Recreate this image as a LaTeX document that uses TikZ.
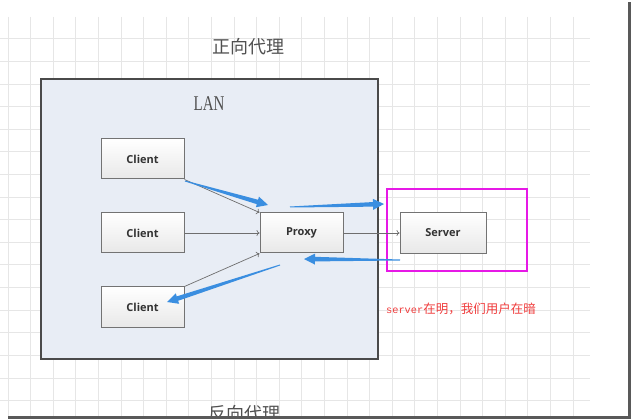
\documentclass[tikz,border=0pt]{standalone}
\usepackage{fontspec}
\setmainfont{Liberation Serif}
\setmonofont{Liberation Mono}
\newfontfamily\cjk{Noto Sans CJK SC}
\newfontfamily\boxfont{Open Sans}
\usetikzlibrary{arrows.meta,calc}
\definecolor{gridc}{RGB}{230,230,230}
\definecolor{lanfill}{RGB}{232,237,245}
\definecolor{lanline}{RGB}{74,74,74}
\definecolor{magbox}{RGB}{230,25,230}
\definecolor{arrowblue}{RGB}{58,142,224}
\definecolor{redtxt}{RGB}{240,60,60}
\definecolor{conn}{RGB}{110,110,110}
\definecolor{boxline}{RGB}{115,115,115}
\definecolor{titlec}{RGB}{80,80,80}
\newcommand\taparrow[2]{%
  \path (#2) coordinate (tt) ($(#2)!11pt!(#1)$) coordinate (hb);
  \fill[arrowblue] ($(#1)!0.5pt!90:(tt)$) -- ($(hb)!2.3pt!90:(tt)$) -- ($(hb)!5.5pt!90:(tt)$) -- (tt)
     -- ($(hb)!5.5pt!-90:(tt)$) -- ($(hb)!2.3pt!-90:(tt)$) -- ($(#1)!0.5pt!-90:(tt)$) -- cycle;}
\tikzset{
  boxnode/.style={draw=boxline, line width=1pt, top color=white, bottom color=black!9,
    minimum width=83pt, minimum height=40pt, inner sep=0pt,
    font=\boxfont\bfseries\fontsize{11}{12}\selectfont, text=black!80},
  connline/.style={draw=conn, line width=0.7pt, -{To[length=3pt,width=6pt]}},
}
\begin{document}
\begin{tikzpicture}[x=1pt,y=-1pt]
\useasboundingbox (0,0) rectangle (631,419);
\fill[white] (0,0) rectangle (631,419);
% grid
\foreach \k in {0,...,25} \draw[gridc, line width=1pt] ({8+22.6*\k},17) -- ({8+22.6*\k},416);
\foreach \k in {0,...,16} \draw[gridc, line width=1pt] (0,{39+22.6*\k}) -- (590,{39+22.6*\k});
% titles
\node[font=\cjk\fontsize{18}{20}\selectfont, text=titlec] (title) at (248,47) {正向代理};
\begin{scope}
\clip (0,0) rectangle (631,416);
\node[font=\cjk\fontsize{18}{20}\selectfont, text=titlec] (title2) at (244,414) {反向代理};
\end{scope}
% LAN box
\node[draw=lanline, fill=lanfill, line width=1.5pt, minimum width=337pt, minimum height=280pt, inner sep=0pt] (lan) at (209.5,219) {};
\node[font=\fontsize{15}{16}\selectfont, text=titlec, yscale=1.4] (lanlabel) at (209,104) {LAN};
% magenta box
\node[draw=magbox, line width=2pt, minimum width=140pt, minimum height=82pt, inner sep=0pt] (mag) at (457,230) {};
% nodes
\node[boxnode] (c1) at (142.5,159) {Client};
\node[boxnode] (c2) at (142.5,233) {Client};
\node[boxnode] (c3) at (142.5,307) {Client};
\node[boxnode] (proxy) at (301.5,233) {Proxy};
\node[boxnode, minimum width=86pt, minimum height=41pt] (server) at (443,233) {Server};
% connectors
\draw[connline] (c1.south east) -- (proxy.north west);
\draw[connline] (c2.east) -- (proxy.west);
\draw[connline] (c3.north east) -- (proxy.south west);
\draw[connline] (proxy.east) -- (server.west);
% blue arrows
\coordinate (b1s) at (185,181); \coordinate (b1e) at (268,205);
\coordinate (b2s) at (290,207); \coordinate (b2e) at (384,204);
\coordinate (b3s) at (400,260); \coordinate (b3e) at (304,259);
\coordinate (b4s) at (280,265); \coordinate (b4e) at (167,302);
\taparrow{b1s}{b1e}
\taparrow{b2s}{b2e}
\taparrow{b3s}{b3e}
\taparrow{b4s}{b4e}
% red note
\node[anchor=west, text=redtxt, inner sep=0pt] (note) at (386,309)
  {{\ttfamily\fontsize{10.3}{12}\selectfont server}{\cjk\fontsize{12.5}{14}\selectfont 在明，我们用户在暗}};
% screenshot frame edges
\fill[black!65] (628,2) rectangle (631,419);
\fill[black!65] (8,416) rectangle (631,419);
\end{tikzpicture}
\end{document}
